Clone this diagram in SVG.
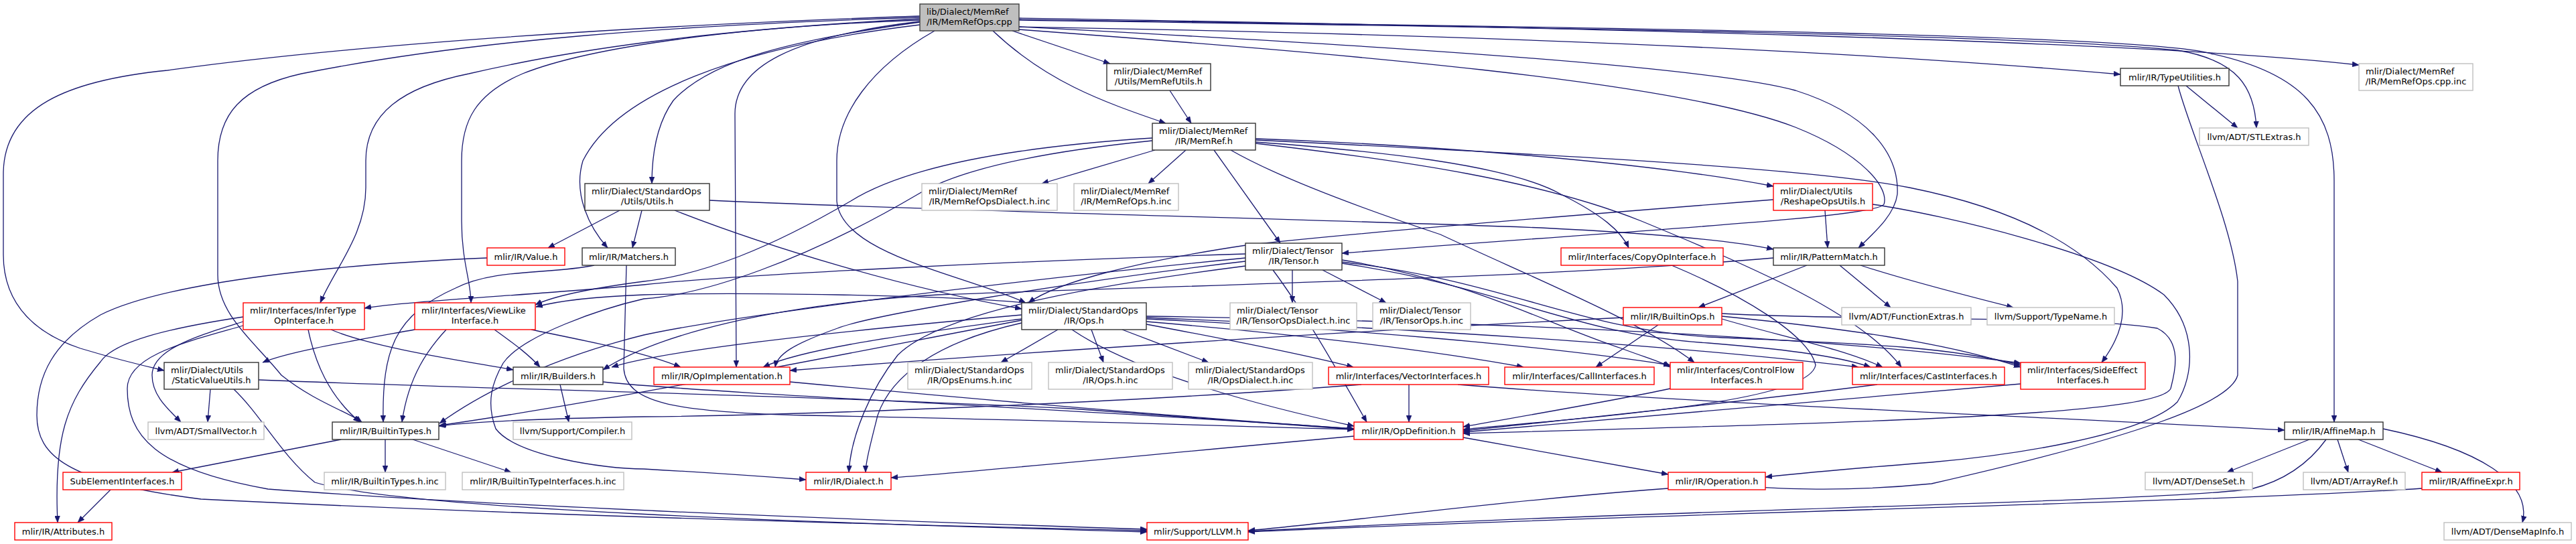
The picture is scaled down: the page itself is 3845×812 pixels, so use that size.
<svg xmlns="http://www.w3.org/2000/svg" width="3845" height="812" viewBox="0 0 3845 812">
<style>
.node rect{fill:#fff;stroke-width:1.4}
.blk rect{stroke:#333}
.red rect{stroke:#f00}
.gry rect{stroke:#bfbfbf}
.main rect{fill:#bfbfbf;stroke:#404040}
text{font-family:"DejaVu Sans",sans-serif;font-size:13px;fill:#000}
.c{text-anchor:middle}
#edges path{fill:none;stroke:#191970;stroke-width:1.3;marker-end:url(#ah)}
</style>
<defs>
<marker id="ah" markerWidth="10" markerHeight="8" refX="10" refY="4" orient="auto" markerUnits="userSpaceOnUse"><path d="M0,0 L10,4 L0,8 z" fill="#191970" stroke="#191970" stroke-width="0.5"/></marker>
</defs>
<rect width="3845" height="812" fill="#fff"/>
<g id="edges">
<path d="M1511 46 L1657 95"/>
<path d="M1482 46 C1560 120 1640 150 1740 184"/>
<path d="M1373 33 C1180 60 1060 90 1005 150 C980 185 973 230 973 274"/>
<path d="M1395 46 C1300 100 1249 170 1249 240 L1249 300 C1255 380 1440 410 1531 452"/>
<path d="M1373 32 C1180 55 1097 100 1097 170 L1099 548"/>
<path d="M1373 37 C1100 70 920 140 870 240 C855 290 880 340 907 370"/>
<path d="M1373 30 C1100 40 880 70 780 110 C710 140 689 180 689 240 L689 330 C689 390 703 420 703 452"/>
<path d="M1373 28 C1050 45 850 75 700 110 C600 130 546 170 546 240 L546 280 C546 350 500 400 478 452"/>
<path d="M1373 26 C1000 38 700 60 450 110 C360 130 325 170 325 240 L325 410 C325 470 380 510 420 560 C470 600 520 615 540 630"/>
<path d="M1373 24 C900 40 500 70 250 105 C100 120 5 160 5 260 L5 380 C5 460 60 500 120 520 C170 535 210 545 245 553"/>
<path d="M1521 40 C2100 50 2700 70 3165 111"/>
<path d="M1521 30 C2200 40 3000 50 3250 75 C3340 90 3365 130 3368 191"/>
<path d="M1521 27 C2300 40 3200 60 3521 97"/>
<path d="M1521 29 C2300 40 3200 50 3300 80 C3440 110 3484 170 3484 270 L3484 630"/>
<path d="M1521 40 C2100 70 2550 100 2680 135 C2790 170 2835 230 2832 290 C2828 320 2800 345 2774 370"/>
<path d="M1521 44 C2000 80 2500 120 2680 190 C2780 230 2820 280 2812 305 C2800 325 2420 345 2003 378"/>
<path d="M1746 135 L1778 184"/>
<path d="M1724 224 L1555 274"/>
<path d="M1770 224 L1714 274"/>
<path d="M1812 224 L1911 363"/>
<path d="M1837 224 C1900 260 2000 300 2150 350 C2300 420 2450 480 2529 541"/>
<path d="M1874 207 C2100 215 2450 240 2647 278"/>
<path d="M1874 212 C2050 225 2250 245 2330 290 C2390 320 2420 345 2431 370"/>
<path d="M1874 214 C2100 240 2300 270 2450 330 C2620 400 2780 470 2838 548"/>
<path d="M1874 209 C2300 230 2700 250 2850 280 C3000 310 3100 360 3160 430 C3180 470 3160 510 3137 541"/>
<path d="M1720 206 C1500 220 1350 250 1270 300 C1150 370 1050 410 961 420 C900 428 830 440 799 455"/>
<path d="M1720 210 C1520 230 1420 260 1370 290 C1200 390 1050 440 961 446 C900 460 780 500 751 542 C735 570 725 600 740 640 C770 680 900 700 961 700 C1050 705 1150 712 1203 716"/>
<path d="M1531 452 C1400 440 1100 436 961 440 C880 443 830 450 800 458"/>
<path d="M1929 403 L1929 452"/>
<path d="M1974 403 L2069 452"/>
<path d="M1859 379 C1500 390 1100 410 961 425 C800 440 600 450 544 460"/>
<path d="M1859 390 C1600 420 1300 470 1250 490 C1180 515 1160 530 1157 548"/>
<path d="M1859 397 C1600 430 1400 470 1340 530 C1300 580 1270 650 1267 705"/>
<path d="M1900 403 C1950 470 2000 560 2040 630"/>
<path d="M2003 388 C2200 420 2300 480 2420 520 C2460 535 2480 540 2493 548"/>
<path d="M2003 393 C2250 430 2350 500 2550 512 C2650 520 2740 530 2792 548"/>
<path d="M2003 391 C2250 420 2350 490 2550 503 C2750 512 2900 515 3016 545"/>
<path d="M1859 385 C1500 420 1100 470 961 500 C800 540 700 600 656 632"/>
<path d="M2647 298 C2300 325 2000 350 1860 366 C1700 390 1580 420 1535 452"/>
<path d="M1579 492 L1494 541"/>
<path d="M1629 492 L1647 541"/>
<path d="M1675 492 L1804 541"/>
<path d="M1525 470 C1300 490 1000 520 913 548"/>
<path d="M1525 478 C1200 540 900 600 656 635"/>
<path d="M1525 482 C1400 510 1330 560 1310 620 C1300 660 1292 690 1292 705"/>
<path d="M1600 492 C1700 560 1900 610 2021 636"/>
<path d="M1525 476 C1350 500 1200 520 1139 548"/>
<path d="M1711 484 C1850 510 1950 530 2020 548"/>
<path d="M1711 480 C1950 500 2150 525 2274 548"/>
<path d="M1711 476 C2000 490 2300 515 2493 545"/>
<path d="M1711 474 C2100 490 2500 515 2774 548"/>
<path d="M1711 472 C2200 480 2700 500 3016 542"/>
<path d="M925 314 L818 370"/>
<path d="M958 314 L944 370"/>
<path d="M1059 299 C1400 315 1900 325 2300 340 C2500 350 2600 362 2647 372"/>
<path d="M1007 314 C1150 370 1350 430 1525 461"/>
<path d="M727 385 C500 395 250 420 150 470 C80 510 55 560 55 620 C55 680 100 720 300 745 C800 770 1400 785 1712 792"/>
<path d="M887 396 C820 410 740 400 680 430 C590 470 570 520 572 630"/>
<path d="M935 396 L931 550 C935 600 1000 615 1200 620 C1500 625 1800 635 2021 641"/>
<path d="M363 473 C250 490 170 510 150 540 C100 600 80 650 86 780"/>
<path d="M363 480 C300 500 227 520 227 560 C227 590 250 610 270 630"/>
<path d="M363 486 C280 510 190 530 190 580 C190 650 230 700 400 730 C800 760 1400 780 1712 790"/>
<path d="M460 492 C470 540 490 590 537 630"/>
<path d="M494 492 C560 520 700 540 766 552"/>
<path d="M619 492 C520 510 430 525 392 541"/>
<path d="M666 492 C640 520 610 560 600 630"/>
<path d="M738 492 C770 515 790 530 806 548"/>
<path d="M793 492 C880 510 960 525 1016 548"/>
<path d="M314 581 L310 630"/>
<path d="M349 581 C390 620 420 680 470 720 C600 760 1200 780 1712 794"/>
<path d="M386 567 C700 580 1200 590 1600 610 C1800 625 1950 635 2021 641"/>
<path d="M836 574 L849 630"/>
<path d="M900 570 C1100 590 1600 610 2021 640"/>
<path d="M509 656 L257 705"/>
<path d="M575 656 L575 705"/>
<path d="M616 656 L763 705"/>
<path d="M165 731 L116 780"/>
<path d="M1179 570 C1500 600 1800 625 2021 640"/>
<path d="M2184 653 L2490 708"/>
<path d="M2021 651 C1700 680 1450 705 1330 713"/>
<path d="M2103 574 L2103 630"/>
<path d="M2176 574 C2500 600 3000 620 3410 642"/>
<path d="M2032 574 C1700 600 1200 620 961 622 C800 625 700 630 655 636"/>
<path d="M2493 580 C2400 600 2250 625 2184 637"/>
<path d="M2495 396 C2600 440 2700 500 2710 545 C2700 600 2400 620 2184 641"/>
<path d="M2802 574 C2600 600 2400 620 2184 643"/>
<path d="M3016 573 C2700 600 2400 625 2184 645"/>
<path d="M2475 485 L2382 548"/>
<path d="M2570 476 C2650 500 2750 520 2810 548"/>
<path d="M2570 472 C2750 490 2900 510 3016 548"/>
<path d="M2423 474 C2100 490 1600 520 1179 553"/>
<path d="M2570 468 C2800 480 3100 470 3220 490 C3260 510 3245 560 3240 580 C3220 620 2800 630 2184 647"/>
<path d="M2697 396 L2535 459"/>
<path d="M2746 396 L2822 459"/>
<path d="M2777 396 C2850 420 2950 445 3005 459"/>
<path d="M2647 385 C2300 415 1800 425 1400 440 C1150 455 980 500 900 552"/>
<path d="M2724 314 L2728 370"/>
<path d="M2795 305 C2900 320 3150 380 3230 440 C3280 490 3275 560 3250 600 C3200 650 3000 680 2883 690 C2780 698 2700 705 2635 712"/>
<path d="M3263 128 L3340 191"/>
<path d="M3251 128 C3270 200 3330 330 3340 420 L3340 560 C3330 600 3200 650 2883 722 C2700 740 2600 722 2550 725 C2300 740 2000 780 1863 792"/>
<path d="M3447 656 L3324 705"/>
<path d="M3489 656 L3505 705"/>
<path d="M3520 656 L3645 705"/>
<path d="M3557 640 C3700 670 3780 720 3765 780"/>
<path d="M3472 656 C3440 700 3400 720 3360 730 C3200 750 2500 760 1863 793"/>
<path d="M3615 729 C3300 750 2500 765 1863 794"/>
</g>
<g id="n0" class="node main"><rect x="1373" y="6" width="148" height="40"/><text x="1383" y="22">lib/Dialect/MemRef</text><text class="c" x="1447" y="36.5">/IR/MemRefOps.cpp</text></g>
<g id="n1" class="node blk"><rect x="1652" y="95" width="155" height="40"/><text x="1662" y="111">mlir/Dialect/MemRef</text><text class="c" x="1729.5" y="125.5">/Utils/MemRefUtils.h</text></g>
<g id="n2" class="node blk"><rect x="1720" y="184" width="154" height="40"/><text x="1730" y="200">mlir/Dialect/MemRef</text><text class="c" x="1797" y="214.5">/IR/MemRef.h</text></g>
<g id="n3" class="node blk"><rect x="3165" y="102" width="162" height="26"/><text class="c" x="3246" y="119.5">mlir/IR/TypeUtilities.h</text></g>
<g id="n4" class="node gry"><rect x="3521" y="95" width="170" height="40"/><text x="3531" y="111">mlir/Dialect/MemRef</text><text class="c" x="3606" y="125.5">/IR/MemRefOps.cpp.inc</text></g>
<g id="n5" class="node gry"><rect x="3283" y="191" width="163" height="26"/><text class="c" x="3364.5" y="208.5">llvm/ADT/STLExtras.h</text></g>
<g id="n6" class="node blk"><rect x="873" y="274" width="186" height="40"/><text x="883" y="290">mlir/Dialect/StandardOps</text><text class="c" x="966" y="304.5">/Utils/Utils.h</text></g>
<g id="n7" class="node red"><rect x="727" y="370" width="116" height="26"/><text class="c" x="785" y="387.5">mlir/IR/Value.h</text></g>
<g id="n8" class="node blk"><rect x="869" y="370" width="139" height="26"/><text class="c" x="938.5" y="387.5">mlir/IR/Matchers.h</text></g>
<g id="n9" class="node red"><rect x="363" y="452" width="181" height="40"/><text x="373" y="468">mlir/Interfaces/InferType</text><text class="c" x="453.5" y="482.5">OpInterface.h</text></g>
<g id="n10" class="node red"><rect x="619" y="452" width="180" height="40"/><text x="629" y="468">mlir/Interfaces/ViewLike</text><text class="c" x="709" y="482.5">Interface.h</text></g>
<g id="n11" class="node gry"><rect x="1376" y="274" width="202" height="40"/><text x="1386" y="290">mlir/Dialect/MemRef</text><text class="c" x="1477" y="304.5">/IR/MemRefOpsDialect.h.inc</text></g>
<g id="n12" class="node gry"><rect x="1603" y="274" width="156" height="40"/><text x="1613" y="290">mlir/Dialect/MemRef</text><text class="c" x="1681" y="304.5">/IR/MemRefOps.h.inc</text></g>
<g id="n13" class="node blk"><rect x="1859" y="363" width="144" height="40"/><text x="1869" y="379">mlir/Dialect/Tensor</text><text class="c" x="1931" y="393.5">/IR/Tensor.h</text></g>
<g id="n14" class="node blk"><rect x="1525" y="452" width="186" height="40"/><text x="1535" y="468">mlir/Dialect/StandardOps</text><text class="c" x="1618" y="482.5">/IR/Ops.h</text></g>
<g id="n15" class="node gry"><rect x="1836" y="452" width="189" height="40"/><text x="1846" y="468">mlir/Dialect/Tensor</text><text class="c" x="1930.5" y="482.5">/IR/TensorOpsDialect.h.inc</text></g>
<g id="n16" class="node red"><rect x="2647" y="274" width="148" height="40"/><text x="2657" y="290">mlir/Dialect/Utils</text><text class="c" x="2721" y="304.5">/ReshapeOpsUtils.h</text></g>
<g id="n17" class="node red"><rect x="2330" y="370" width="242" height="26"/><text class="c" x="2451" y="387.5">mlir/Interfaces/CopyOpInterface.h</text></g>
<g id="n18" class="node blk"><rect x="2647" y="370" width="166" height="26"/><text class="c" x="2730" y="387.5">mlir/IR/PatternMatch.h</text></g>
<g id="n19" class="node gry"><rect x="2049" y="452" width="146" height="40"/><text x="2059" y="468">mlir/Dialect/Tensor</text><text class="c" x="2122" y="482.5">/IR/TensorOps.h.inc</text></g>
<g id="n20" class="node red"><rect x="2423" y="459" width="147" height="26"/><text class="c" x="2496.5" y="476.5">mlir/IR/BuiltinOps.h</text></g>
<g id="n21" class="node gry"><rect x="2749" y="459" width="193" height="26"/><text class="c" x="2845.5" y="476.5">llvm/ADT/FunctionExtras.h</text></g>
<g id="n22" class="node gry"><rect x="2966" y="459" width="190" height="26"/><text class="c" x="3061" y="476.5">llvm/Support/TypeName.h</text></g>
<g id="n23" class="node blk"><rect x="245" y="541" width="141" height="40"/><text x="255" y="557">mlir/Dialect/Utils</text><text class="c" x="315.5" y="571.5">/StaticValueUtils.h</text></g>
<g id="n24" class="node blk"><rect x="766" y="548" width="134" height="26"/><text class="c" x="833" y="565.5">mlir/IR/Builders.h</text></g>
<g id="n25" class="node gry"><rect x="221" y="630" width="173" height="26"/><text class="c" x="307.5" y="647.5">llvm/ADT/SmallVector.h</text></g>
<g id="n26" class="node blk"><rect x="496" y="630" width="159" height="26"/><text class="c" x="575.5" y="647.5">mlir/IR/BuiltinTypes.h</text></g>
<g id="n27" class="node gry"><rect x="766" y="630" width="177" height="26"/><text class="c" x="854.5" y="647.5">llvm/Support/Compiler.h</text></g>
<g id="n28" class="node red"><rect x="94" y="705" width="177" height="26"/><text class="c" x="182.5" y="722.5">SubElementInterfaces.h</text></g>
<g id="n29" class="node gry"><rect x="484" y="705" width="181" height="26"/><text class="c" x="574.5" y="722.5">mlir/IR/BuiltinTypes.h.inc</text></g>
<g id="n30" class="node gry"><rect x="690" y="705" width="241" height="26"/><text class="c" x="810.5" y="722.5">mlir/IR/BuiltinTypeInterfaces.h.inc</text></g>
<g id="n31" class="node red"><rect x="22" y="780" width="145" height="26"/><text class="c" x="94.5" y="797.5">mlir/IR/Attributes.h</text></g>
<g id="n32" class="node red"><rect x="976" y="548" width="203" height="26"/><text class="c" x="1077.5" y="565.5">mlir/IR/OpImplementation.h</text></g>
<g id="n33" class="node gry"><rect x="1355" y="541" width="185" height="40"/><text x="1365" y="557">mlir/Dialect/StandardOps</text><text class="c" x="1447.5" y="571.5">/IR/OpsEnums.h.inc</text></g>
<g id="n34" class="node gry"><rect x="1565" y="541" width="185" height="40"/><text x="1575" y="557">mlir/Dialect/StandardOps</text><text class="c" x="1657.5" y="571.5">/IR/Ops.h.inc</text></g>
<g id="n35" class="node gry"><rect x="1774" y="541" width="185" height="40"/><text x="1784" y="557">mlir/Dialect/StandardOps</text><text class="c" x="1866.5" y="571.5">/IR/OpsDialect.h.inc</text></g>
<g id="n36" class="node red"><rect x="1203" y="705" width="127" height="26"/><text class="c" x="1266.5" y="722.5">mlir/IR/Dialect.h</text></g>
<g id="n37" class="node red"><rect x="1712" y="780" width="151" height="26"/><text class="c" x="1787.5" y="797.5">mlir/Support/LLVM.h</text></g>
<g id="n38" class="node red"><rect x="1983" y="548" width="239" height="26"/><text class="c" x="2102.5" y="565.5">mlir/Interfaces/VectorInterfaces.h</text></g>
<g id="n39" class="node red"><rect x="2246" y="548" width="223" height="26"/><text class="c" x="2357.5" y="565.5">mlir/Interfaces/CallInterfaces.h</text></g>
<g id="n40" class="node red"><rect x="2493" y="541" width="198" height="40"/><text x="2503" y="557">mlir/Interfaces/ControlFlow</text><text class="c" x="2592" y="571.5">Interfaces.h</text></g>
<g id="n41" class="node red"><rect x="2765" y="548" width="227" height="26"/><text class="c" x="2878.5" y="565.5">mlir/Interfaces/CastInterfaces.h</text></g>
<g id="n42" class="node red"><rect x="2021" y="630" width="163" height="26"/><text class="c" x="2102.5" y="647.5">mlir/IR/OpDefinition.h</text></g>
<g id="n43" class="node red"><rect x="2490" y="705" width="145" height="26"/><text class="c" x="2562.5" y="722.5">mlir/IR/Operation.h</text></g>
<g id="n44" class="node red"><rect x="3016" y="541" width="186" height="40"/><text x="3026" y="557">mlir/Interfaces/SideEffect</text><text class="c" x="3109" y="571.5">Interfaces.h</text></g>
<g id="n45" class="node blk"><rect x="3410" y="630" width="147" height="26"/><text class="c" x="3483.5" y="647.5">mlir/IR/AffineMap.h</text></g>
<g id="n46" class="node gry"><rect x="3202" y="705" width="160" height="26"/><text class="c" x="3282" y="722.5">llvm/ADT/DenseSet.h</text></g>
<g id="n47" class="node gry"><rect x="3438" y="705" width="152" height="26"/><text class="c" x="3514" y="722.5">llvm/ADT/ArrayRef.h</text></g>
<g id="n48" class="node red"><rect x="3615" y="705" width="146" height="26"/><text class="c" x="3688" y="722.5">mlir/IR/AffineExpr.h</text></g>
<g id="n49" class="node gry"><rect x="3648" y="780" width="190" height="26"/><text class="c" x="3743" y="797.5">llvm/ADT/DenseMapInfo.h</text></g>
</svg>
